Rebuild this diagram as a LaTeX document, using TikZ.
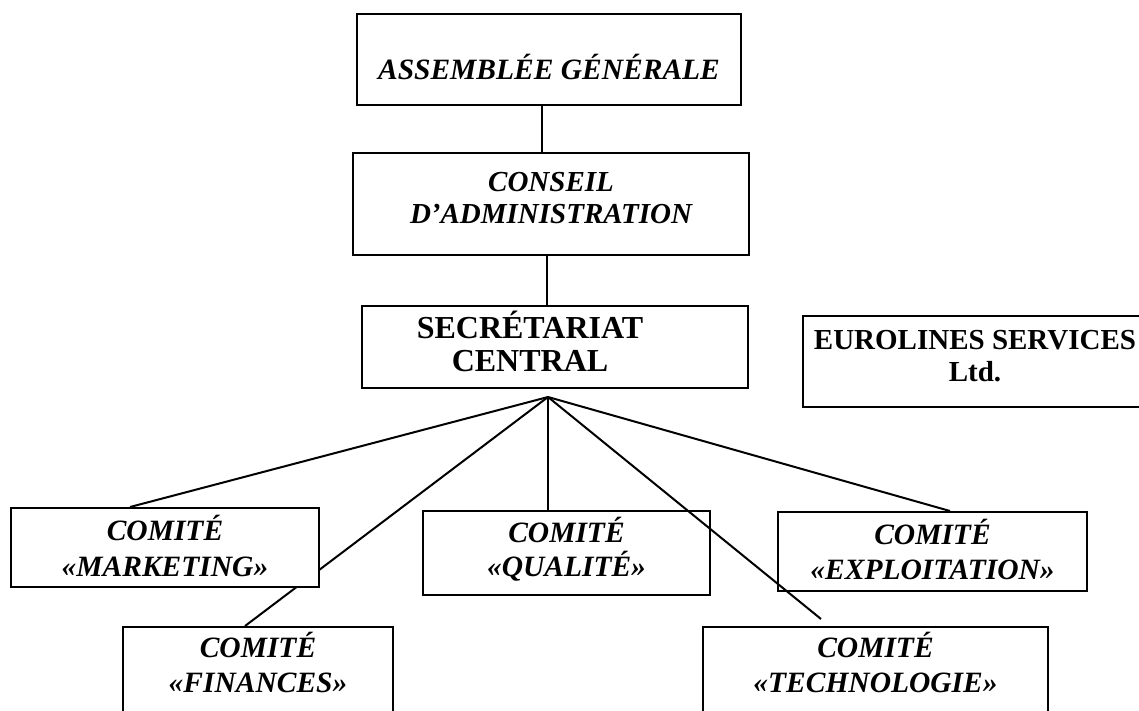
\documentclass[tikz,border=0pt]{standalone}
\usepackage{fontspec}
\setmainfont{Liberation Serif}
\newcommand\boxlines[3]{\raisebox{#1}[0pt][0pt]{\vtop{\baselineskip=#2\lineskiplimit=-100pt\lineskip=0pt\halign{\hfil##\hfil\cr#3\cr}}}}
\begin{document}
\begin{tikzpicture}[x=1pt,y=-1pt,
  box/.style={draw, line width=2pt, fill=white, inner sep=0pt},
  bi/.style={font=\fontsize{29.5}{34}\selectfont\bfseries\itshape},
  bu/.style={font=\fontsize{29}{32}\selectfont\bfseries},
  link/.style={line width=2pt}]
\useasboundingbox (0,0) rectangle (1139,710);
\clip (0,0) rectangle (1139,710);
% boxes
\node[box, bi, minimum width=384pt, minimum height=91pt] (ag) at (549,59.5) {\boxlines{-19.5pt}{34pt}{ASSEMBLÉE GÉNÉRALE}};
\node[box, bi, font=\fontsize{29}{32}\selectfont\bfseries\itshape, minimum width=396pt, minimum height=102pt] (ca) at (551,204) {\boxlines{13pt}{32pt}{CONSEIL\cr D’ADMINISTRATION}};
\node[box, bu, font=\fontsize{32}{33}\selectfont\bfseries, minimum width=386pt, minimum height=82pt] (sc) at (555,347) {\hspace*{-50pt}\boxlines{9pt}{33pt}{SECRÉTARIAT\cr CENTRAL}};
\node[box, bu, minimum width=344pt, minimum height=91pt] (eu) at (975,361.5) {\boxlines{12.5pt}{32pt}{EUROLINES SERVICES\cr Ltd.}};
\node[box, bi, minimum width=287pt, minimum height=84pt] (qu) at (566.5,553) {\boxlines{11pt}{34pt}{COMITÉ\cr «QUALITÉ»}};
\node[box, bi, minimum width=309pt, minimum height=79pt] (ex) at (932.5,551.5) {\boxlines{7pt}{35pt}{COMITÉ\cr «EXPLOITATION»}};
\node[box, bi, minimum width=270pt, minimum height=86pt] (fi) at (258,670) {\boxlines{13pt}{35pt}{COMITÉ\cr «FINANCES»}};
\node[box, bi, minimum width=345pt, minimum height=86pt] (te) at (875.5,670) {\boxlines{13pt}{35pt}{COMITÉ\cr «TECHNOLOGIE»}};
\coordinate (hub) at (548,397);
% line hidden behind the Marketing box
\draw[link] (hub) -- ([xshift=-13pt]fi.north);
\node[box, bi, minimum width=308pt, minimum height=79pt] (mk) at (165,547.5) {\boxlines{7.5pt}{36pt}{COMITÉ\cr «MARKETING»}};
% connectors
\draw[link] ([xshift=-7pt]ag.south) -- ([xshift=-7pt]ag.south |- ca.north);
\draw[link] ([xshift=-4pt]ca.south) -- ([xshift=-4pt]ca.south |- sc.north);
\draw[link] (hub) -- ([xshift=-35pt]mk.north);
\draw[link] (hub) -- (hub |- qu.north);
\draw[link] (hub) -- ([xshift=17.5pt]ex.north);
\draw[link] (hub) -- ([xshift=-54.5pt,yshift=7pt]te.north);
\end{tikzpicture}
\end{document}
